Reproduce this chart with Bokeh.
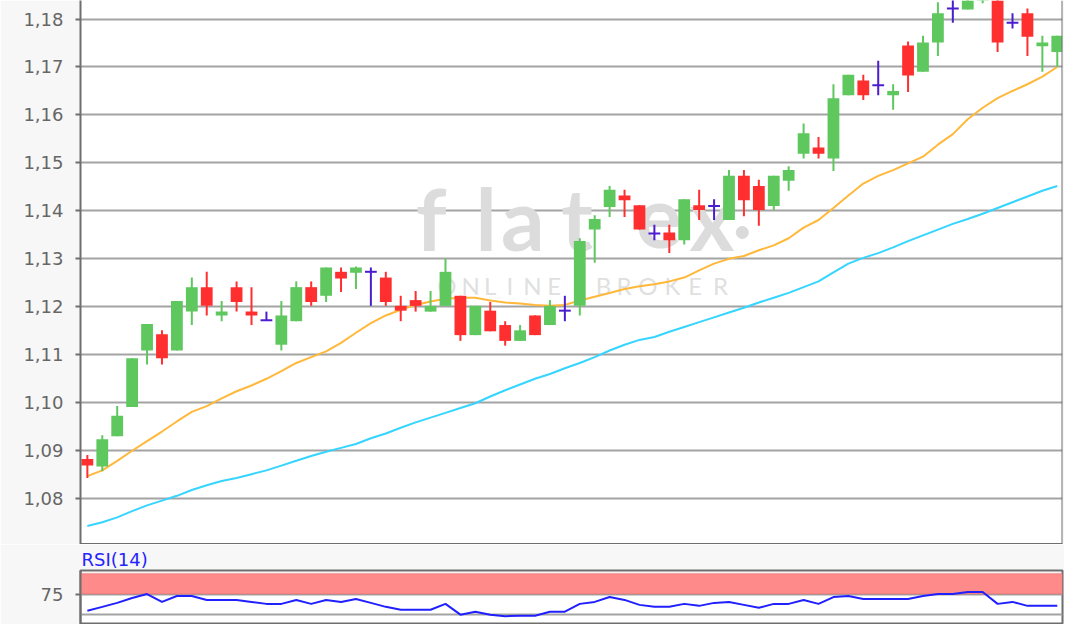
from bokeh.plotting import figure
from bokeh.layouts import column
from bokeh.models import (Range1d, FixedTicker, CustomJSTickFormatter, BoxAnnotation,
                          ColumnDataSource, Span)
from bokeh.core.properties import value
from bokeh.embed import file_html
from bokeh.resources import INLINE

# ---------------- data ----------------
opens = [1.0883, 1.0867, 1.0930, 1.0991, 1.1109, 1.1143, 1.1109, 1.1190, 1.1241, 1.1182,
         1.1241, 1.1190, 1.1172, 1.1121, 1.1170, 1.1241, 1.1223, 1.1273, 1.1271, 1.1273,
         1.1261, 1.1202, 1.1214, 1.1190, 1.1202, 1.1223, 1.1141, 1.1192, 1.1162, 1.1129,
         1.1182, 1.1162, 1.1192, 1.1202, 1.1361, 1.1408, 1.1432, 1.1412, 1.1353, 1.1355,
         1.1339, 1.1412, 1.1410, 1.1381, 1.1473, 1.1452, 1.1410, 1.1463, 1.1519, 1.1532,
         1.1509, 1.1641, 1.1672, 1.1662, 1.1641, 1.1745, 1.1690, 1.1751, 1.1822, 1.1820,
         1.1850, 1.1850, 1.1792, 1.1812, 1.1743, 1.1731]
highs = [1.0891, 1.0932, 1.0993, 1.1093, 1.1164, 1.1151, 1.1212, 1.1261, 1.1273, 1.1212,
         1.1253, 1.1241, 1.1190, 1.1212, 1.1253, 1.1253, 1.1282, 1.1282, 1.1284, 1.1282,
         1.1273, 1.1223, 1.1233, 1.1233, 1.1300, 1.1223, 1.1202, 1.1210, 1.1170, 1.1162,
         1.1182, 1.1214, 1.1223, 1.1343, 1.1391, 1.1452, 1.1444, 1.1412, 1.1371, 1.1371,
         1.1424, 1.1444, 1.1424, 1.1485, 1.1485, 1.1465, 1.1473, 1.1493, 1.1582, 1.1554,
         1.1664, 1.1684, 1.1684, 1.1713, 1.1664, 1.1753, 1.1765, 1.1835, 1.1845, 1.1860,
         1.1870, 1.1870, 1.1812, 1.1822, 1.1765, 1.1765]
lows = [1.0843, 1.0857, 1.0930, 1.0991, 1.1080, 1.1080, 1.1109, 1.1162, 1.1182, 1.1170,
        1.1190, 1.1162, 1.1172, 1.1109, 1.1170, 1.1202, 1.1210, 1.1231, 1.1237, 1.1202,
        1.1202, 1.1170, 1.1190, 1.1190, 1.1202, 1.1129, 1.1141, 1.1149, 1.1119, 1.1129,
        1.1141, 1.1162, 1.1170, 1.1182, 1.1292, 1.1387, 1.1387, 1.1361, 1.1339, 1.1312,
        1.1330, 1.1381, 1.1381, 1.1381, 1.1389, 1.1369, 1.1402, 1.1442, 1.1509, 1.1509,
        1.1483, 1.1641, 1.1631, 1.1641, 1.1611, 1.1648, 1.1690, 1.1723, 1.1792, 1.1820,
        1.1833, 1.1731, 1.1780, 1.1723, 1.1690, 1.1700]
closes = [1.0869, 1.0924, 1.0973, 1.1093, 1.1164, 1.1093, 1.1212, 1.1241, 1.1202, 1.1190,
          1.1210, 1.1182, 1.1172, 1.1182, 1.1241, 1.1210, 1.1282, 1.1259, 1.1282, 1.1273,
          1.1210, 1.1192, 1.1202, 1.1202, 1.1273, 1.1141, 1.1202, 1.1149, 1.1129, 1.1151,
          1.1141, 1.1202, 1.1192, 1.1337, 1.1383, 1.1444, 1.1422, 1.1361, 1.1353, 1.1339,
          1.1424, 1.1402, 1.1410, 1.1473, 1.1422, 1.1402, 1.1473, 1.1485, 1.1562, 1.1519,
          1.1635, 1.1684, 1.1641, 1.1662, 1.1650, 1.1682, 1.1751, 1.1812, 1.1822, 1.1850,
          1.1862, 1.1751, 1.1792, 1.1763, 1.1751, 1.1765]
ma_short = [1.0847, 1.0859, 1.0879, 1.0900, 1.0920, 1.0940, 1.0961, 1.0981, 1.0993, 1.1009,
            1.1024, 1.1036, 1.1050, 1.1066, 1.1083, 1.1095, 1.1107, 1.1125, 1.1146, 1.1166,
            1.1182, 1.1194, 1.1204, 1.1211, 1.1217, 1.1219, 1.1219, 1.1213, 1.1209, 1.1207,
            1.1204, 1.1202, 1.1204, 1.1213, 1.1221, 1.1229, 1.1237, 1.1243, 1.1247, 1.1253,
            1.1261, 1.1276, 1.1290, 1.1300, 1.1306, 1.1318, 1.1328, 1.1343, 1.1365, 1.1381,
            1.1406, 1.1432, 1.1457, 1.1473, 1.1485, 1.1499, 1.1513, 1.1538, 1.1560, 1.1591,
            1.1615, 1.1635, 1.1650, 1.1664, 1.1680, 1.1700]
ma_long = [1.0743, 1.0751, 1.0761, 1.0774, 1.0786, 1.0796, 1.0806, 1.0818, 1.0828, 1.0837,
           1.0843, 1.0851, 1.0859, 1.0869, 1.0879, 1.0889, 1.0898, 1.0906, 1.0914, 1.0926,
           1.0936, 1.0948, 1.0959, 1.0969, 1.0979, 1.0989, 1.0999, 1.1013, 1.1026, 1.1038,
           1.1050, 1.1060, 1.1072, 1.1083, 1.1095, 1.1109, 1.1121, 1.1131, 1.1137, 1.1148,
           1.1158, 1.1168, 1.1178, 1.1188, 1.1198, 1.1209, 1.1219, 1.1229, 1.1241, 1.1253,
           1.1272, 1.1290, 1.1302, 1.1312, 1.1324, 1.1337, 1.1349, 1.1361, 1.1373, 1.1383,
           1.1394, 1.1406, 1.1418, 1.1430, 1.1442, 1.1452]
rsi_values = [54.8, 59.5, 64.3, 70.2, 75.0, 65.5, 72.6, 72.6, 67.9, 67.9,
              67.9, 65.5, 63.1, 63.1, 67.9, 63.1, 67.9, 65.5, 69.0, 64.3,
              59.5, 56.0, 56.0, 56.0, 63.1, 50.0, 53.6, 50.0, 48.2, 48.8,
              48.8, 53.6, 53.6, 63.1, 65.5, 71.4, 67.9, 61.9, 59.5, 59.5,
              63.1, 60.7, 64.3, 65.5, 61.9, 58.3, 63.1, 63.1, 67.9, 63.1,
              71.4, 72.6, 69.0, 69.0, 69.0, 69.0, 72.6, 75.0, 75.0, 77.4,
              77.4, 63.1, 65.5, 60.7, 60.7, 60.7]
price_ticks = [1.08, 1.09, 1.10, 1.11, 1.12, 1.13, 1.14, 1.15, 1.16, 1.17, 1.18]
rsi_label_ticks = [75]
rsi_grid_levels = [50, 75]
rsi_band = [75, 100]
rsi_title = "RSI(14)"
wm_word = list("flatex")
wm_sub = list("ONLINEBROKER")

# ---------------- styling ----------------
GREEN = "#5ec75e"
RED = "#ff2f2f"
BLUE = "#4a1ecf"
AXIS = "#6e6e6e"
GRID = "#a3a3a3"
BORDER_BG = "#f7f7f7"
FONT = "DejaVu Sans"

n = len(opens)
idx = list(range(n))
colors = [GREEN if c > o else (RED if c < o else BLUE) for o, c in zip(opens, closes)]

all_src = ColumnDataSource(dict(x=idx, high=highs, low=lows, color=colors))
body_i = [i for i in idx if opens[i] != closes[i]]
doji_i = [i for i in idx if opens[i] == closes[i]]
body_src = ColumnDataSource(dict(
    x=body_i,
    top=[max(opens[i], closes[i]) for i in body_i],
    bottom=[min(opens[i], closes[i]) for i in body_i],
    color=[colors[i] for i in body_i]))
doji_src = ColumnDataSource(dict(x=doji_i, y=[opens[i] for i in doji_i],
                                 color=[colors[i] for i in doji_i]))

X0, X1 = -0.46, 65.35
x_range = Range1d(X0, X1)
Y0, Y1 = 1.07045, 1.18386

p = figure(width=1064, height=544, x_range=x_range, y_range=Range1d(Y0, Y1),
           x_axis_type=None, toolbar_location=None, output_backend="svg", title=None,
           min_border_left=80, min_border_right=2, min_border_top=0, min_border_bottom=0,
           background_fill_color="white", border_fill_color=BORDER_BG,
           outline_line_color=None)

p.yaxis.ticker = FixedTicker(ticks=price_ticks)
p.yaxis.formatter = CustomJSTickFormatter(code="return tick.toFixed(2).replace('.', ',');")
p.yaxis.major_label_text_font = FONT
p.yaxis.major_label_text_font_size = "18px"
p.yaxis.major_label_text_color = "#666666"
p.yaxis.major_label_standoff = 12
p.yaxis.major_tick_in = 0
p.yaxis.major_tick_out = 5
p.yaxis.major_tick_line_color = AXIS
p.yaxis.major_tick_line_width = 2
p.yaxis.minor_tick_line_color = None
p.yaxis.axis_line_color = AXIS
p.yaxis.axis_line_width = 2
p.ygrid.grid_line_color = GRID
p.ygrid.grid_line_width = 2

# frame borders (right and bottom; the top is outside the picture)
p.add_layout(Span(location=X1, dimension="height", line_color=AXIS, line_width=2))
p.add_layout(Span(location=Y0, dimension="width", line_color=AXIS, line_width=3))

# watermark
wm_src = ColumnDataSource(dict(x=[23.04, 26.73, 29.18, 32.81, 38.28, 41.85],
                               y=[1.1387] * 6, text=wm_word))
p.text(x="x", y="y", text="text", source=wm_src, text_font=value("Lato"),
       text_font_size=value("86px"), text_font_style="bold", text_color="#dcdcdc",
       text_align="center", text_baseline="alphabetic")
sub_src = ColumnDataSource(dict(x=[24.09, 25.68, 27.0, 28.32, 29.83, 31.29,
                                   34.59, 35.97, 37.56, 39.21, 40.73, 42.44],
                                y=[1.1244] * 12, text=wm_sub))
p.text(x="x", y="y", text="text", source=sub_src, text_font=value("Lato"),
       text_font_size=value("24px"), text_color="#e0e0e0",
       text_align="center", text_baseline="middle")
p.scatter(x=[43.89], y=[1.1355], size=12, color="#dadada")

# moving averages
p.line(idx, ma_long, line_color="#35d5ff", line_width=2)
p.line(idx, ma_short, line_color="#ffb83a", line_width=2)

# candles
p.segment(x0="x", y0="low", x1="x", y1="high", line_color="color", line_width=2,
          source=all_src)
p.vbar(x="x", width=0.79, top="top", bottom="bottom", fill_color="color",
       line_color=None, source=body_src)
p.rect(x="x", y="y", width=0.79, height=2, height_units="screen", fill_color="color",
       line_color=None, source=doji_src)

# ---------------- RSI panel ----------------
p2 = figure(width=1064, height=80, x_range=x_range, y_range=Range1d(38.1, 103.57),
            x_axis_type=None, toolbar_location=None, output_backend="svg",
            title=rsi_title,
            min_border_left=80, min_border_right=2, min_border_top=26, min_border_bottom=0,
            background_fill_color="white", border_fill_color=BORDER_BG,
            outline_line_color=AXIS, outline_line_width=2)
p2.title.text_font = FONT
p2.title.text_font_size = "18px"
p2.title.text_font_style = "normal"
p2.title.text_color = "#2424ff"
p2.title.align = "left"
p2.title.standoff = 2
p2.title.offset = 1

p2.yaxis.ticker = FixedTicker(ticks=rsi_label_ticks)
p2.yaxis.major_label_text_font = FONT
p2.yaxis.major_label_text_font_size = "18px"
p2.yaxis.major_label_text_color = "#666666"
p2.yaxis.major_label_standoff = 12
p2.yaxis.major_tick_in = 0
p2.yaxis.major_tick_out = 5
p2.yaxis.major_tick_line_color = AXIS
p2.yaxis.major_tick_line_width = 2
p2.yaxis.minor_tick_line_color = None
p2.yaxis.axis_line_color = AXIS
p2.yaxis.axis_line_width = 2
p2.ygrid.ticker = FixedTicker(ticks=rsi_grid_levels)
p2.ygrid.grid_line_color = GRID
p2.ygrid.grid_line_width = 2

band = BoxAnnotation(bottom=rsi_band[0], top=rsi_band[1], fill_color="#ff8a8a",
                     fill_alpha=1.0, line_color="#d25e5e", line_width=1.5,
                     level="underlay")
p2.add_layout(band)
p2.line(idx, rsi_values, line_color="#2020ff", line_width=2)

layout = column(p, p2, spacing=0)
open("out.html", "w").write(file_html(layout, INLINE))
